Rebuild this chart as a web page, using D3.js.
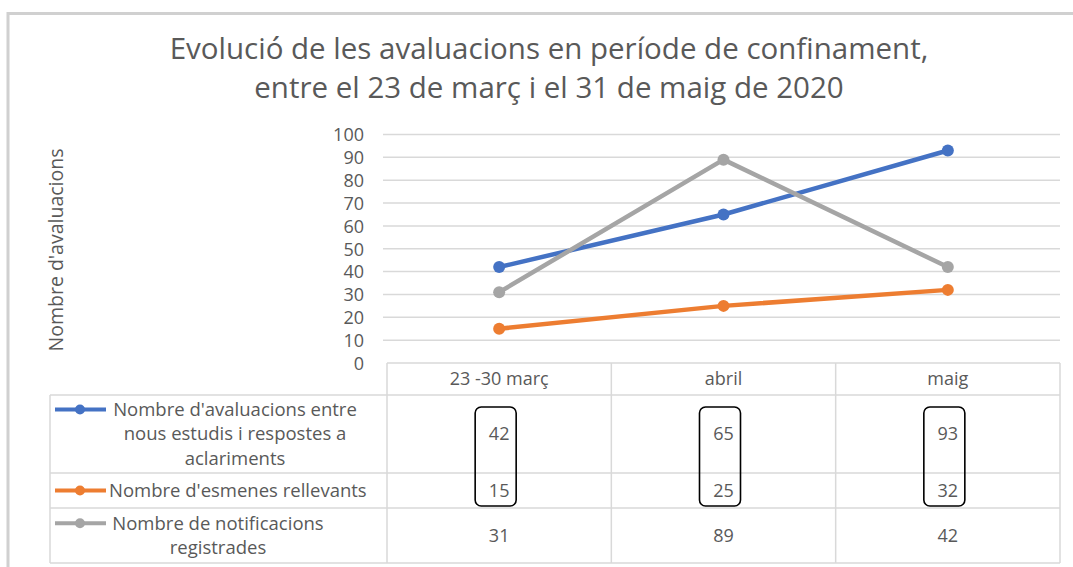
<!DOCTYPE html>
<html><head><meta charset="utf-8">
<script src="https://cdn.jsdelivr.net/npm/d3@7"></script>
<style>body{margin:0;background:#fff}svg{display:block}</style>
</head><body>
<svg id="c" width="1073" height="567"></svg>
<script>
const categories = ["23 -30 març", "abril", "maig"];
const seriesNames = [
  ["Nombre d'avaluacions entre", "nous estudis i respostes a", "aclariments"],
  ["Nombre d'esmenes rellevants"],
  ["Nombre de notificacions", "registrades"]
];
const avaluacions = [42, 65, 93];
const esmenes = [15, 25, 32];
const notificacions = [31, 89, 42];
const seriesColors = ["#4472C4", "#ED7D31", "#A5A5A5"];
const yTicks = [0,10,20,30,40,50,60,70,80,90,100];
const titleLines = ["Evolució de les avaluacions en període de confinament,", "entre el 23 de març i el 31 de maig de 2020"];
const yLabel = "Nombre d'avaluacions";

const series = [avaluacions, esmenes, notificacions];
const font = "Open Sans, sans-serif";
const txt = "#595959";
const gridC = "#d9d9d9";

const svg = d3.select("#c");
// outer frame
svg.append("path").attr("d","M8,1080 V13.5 H1080").attr("fill","none").attr("stroke","#d0d0d0").attr("stroke-width",3);

// title
svg.selectAll(".title").data(titleLines).join("text")
  .attr("x", 549).attr("y",(d,i)=>59+i*39).attr("text-anchor","middle")
  .attr("font-family",font).attr("font-size",29.5).attr("fill",txt).text(d=>d);

const x0 = 387, x1 = 1060;
const x = d3.scaleBand().domain(categories).range([x0, x1]);
const y = d3.scaleLinear().domain([0,100]).range([363, 134.5]);

// gridlines
svg.append("g").selectAll("line").data(yTicks.filter(t=>t>0)).join("line")
  .attr("x1",383).attr("x2",x1).attr("y1",d=>y(d)).attr("y2",d=>y(d))
  .attr("stroke",gridC).attr("stroke-width",1.5);

// y axis labels
const yAxis = d3.axisLeft(y).tickValues(yTicks).tickSize(0).tickPadding(0);
const ga = svg.append("g").attr("transform","translate(364,0)").call(yAxis);
ga.select(".domain").remove();
ga.selectAll("text").attr("font-family",font).attr("font-size",18).attr("fill",txt).attr("dy","0.35em");

svg.append("text").attr("transform","translate(63,250) rotate(-90)").attr("text-anchor","middle")
  .attr("font-family",font).attr("font-size",19.5).attr("fill",txt).text(yLabel);

// table
const tableL = 50;
const rowB = [363, 395, 473, 508, 563];
const tg = svg.append("g").attr("stroke",gridC).attr("stroke-width",1.5).attr("fill","none");
tg.append("line").attr("x1",x0).attr("x2",x1).attr("y1",rowB[0]).attr("y2",rowB[0]);
[1,2,3,4].forEach(i=>tg.append("line").attr("x1",tableL).attr("x2",x1).attr("y1",rowB[i]).attr("y2",rowB[i]));
tg.append("line").attr("x1",tableL).attr("x2",tableL).attr("y1",rowB[1]).attr("y2",rowB[4]);
categories.forEach(c=>tg.append("line").attr("x1",x(c)).attr("x2",x(c)).attr("y1",rowB[0]).attr("y2",rowB[4]));
tg.append("line").attr("x1",x1).attr("x2",x1).attr("y1",rowB[0]).attr("y2",rowB[4]);

// category labels
svg.selectAll(".cat").data(categories).join("text")
  .attr("x",d=>x(d)+x.bandwidth()/2).attr("y",(rowB[0]+rowB[1])/2).attr("dy","0.35em")
  .attr("text-anchor","middle").attr("font-family",font).attr("font-size",18).attr("fill",txt).text(d=>d);

// legend + values
const lineCenters = [235, null, 218];
series.forEach((vals,si)=>{
  const top = rowB[si+1], bot = rowB[si+2], mid=(top+bot)/2;
  const lines = seriesNames[si];
  const lh = 24.5;
  const y0 = mid - (lines.length-1)/2*lh;
  svg.append("line").attr("x1",55).attr("x2",106).attr("y1",y0).attr("y2",y0)
    .attr("stroke",seriesColors[si]).attr("stroke-width",4);
  svg.append("circle").attr("cx",80).attr("cy",y0).attr("r",5).attr("fill",seriesColors[si]);
  lines.forEach((l,li)=>{
    const single = lineCenters[si] === null;
    svg.append("text").attr("x", single ? 109 : lineCenters[si]).attr("text-anchor", single?"start":"middle")
      .attr("y", y0 + li*lh).attr("dy","0.35em")
      .attr("font-family",font).attr("font-size",18.5).attr("fill",txt).text(l);
  });
  vals.forEach((v,ci)=>{
    svg.append("text").attr("x",x(categories[ci])+x.bandwidth()/2).attr("y", mid)
      .attr("dy","0.35em").attr("text-anchor","middle").attr("font-family",font).attr("font-size",18)
      .attr("fill",txt).text(v);
  });
});

// highlight boxes
categories.forEach(c=>{
  svg.append("rect").attr("x",x(c)+x.bandwidth()/2-24).attr("y",407).attr("width",41).attr("height",99)
    .attr("rx",6).attr("fill","none").attr("stroke","#000").attr("stroke-width",1.6);
});

// lines
const line = d3.line().x((d,i)=>x(categories[i])+x.bandwidth()/2).y(d=>y(d));
series.forEach((vals,si)=>{
  svg.append("path").attr("d",line(vals)).attr("fill","none").attr("stroke",seriesColors[si])
    .attr("stroke-width",4.5).attr("stroke-linejoin","round");
  svg.selectAll(null).data(vals).join("circle")
    .attr("cx",(d,i)=>x(categories[i])+x.bandwidth()/2).attr("cy",d=>y(d)).attr("r",6)
    .attr("fill",seriesColors[si]);
});
</script>
</body></html>
